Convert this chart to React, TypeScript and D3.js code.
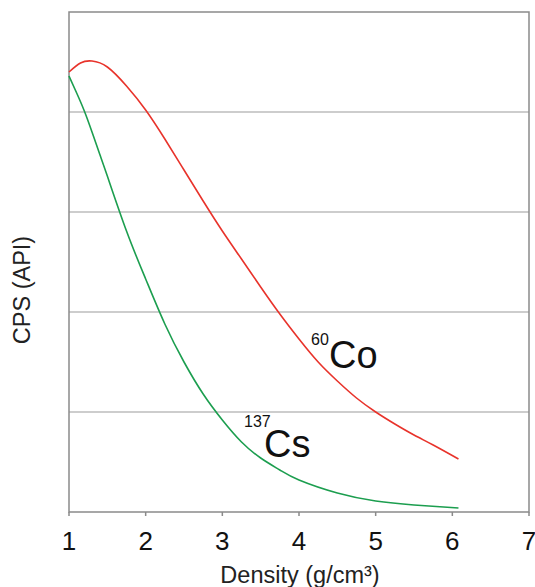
import React from "react";
import * as d3 from "d3";

// density (g/cm³) samples and relative count rates
const coDensity = [1.0, 1.15, 1.3, 1.5, 1.75, 2.0, 2.25, 2.5, 2.75, 3.0, 3.25, 3.5, 3.75, 4.0, 4.25, 4.5, 4.75, 5.0, 5.25, 5.5, 5.75, 6.08];
const coCps = [4.4, 4.49, 4.51, 4.45, 4.26, 4.02, 3.73, 3.42, 3.11, 2.81, 2.53, 2.25, 1.98, 1.73, 1.5, 1.31, 1.14, 1.0, 0.88, 0.77, 0.67, 0.53];
const csDensity = [1.0, 1.1, 1.2, 1.3, 1.4, 1.5, 1.75, 2.0, 2.25, 2.5, 2.75, 3.0, 3.25, 3.5, 3.75, 4.0, 4.5, 5.0, 5.5, 6.08];
const csCps = [4.36, 4.19, 4.01, 3.8, 3.58, 3.36, 2.81, 2.33, 1.88, 1.5, 1.18, 0.92, 0.7, 0.54, 0.42, 0.32, 0.19, 0.11, 0.07, 0.04];
const xTicks = [1, 2, 3, 4, 5, 6, 7];
const gridLevels = [1, 2, 3, 4];

const width = 535;
const height = 587;
const m = { left: 69, right: 6, top: 12, bottom: 75 };

const App = () => {
  const x = d3.scaleLinear().domain([1, 7]).range([m.left, width - m.right]);
  const y = d3.scaleLinear().domain([0, 5]).range([height - m.bottom, m.top]);

  const line = d3
    .line<[number, number]>()
    .x(d => x(d[0]))
    .y(d => y(d[1]))
    .curve(d3.curveNatural);

  const coPts = coDensity.map((d, i) => [d, coCps[i]] as [number, number]);
  const csPts = csDensity.map((d, i) => [d, csCps[i]] as [number, number]);

  const font = "Liberation Sans, Arial, sans-serif";
  const [x0, x1] = x.range();
  const [y0, y1] = y.range();

  return (
    <svg width={width} height={height} style={{ position: "absolute", left: 0, top: 0 }} fontFamily={font}>
      <rect width={width} height={height} fill="white" />
      {gridLevels.map(g => (
        <line key={g} x1={x0} x2={x1} y1={y(g)} y2={y(g)} stroke="#bdbdbd" strokeWidth={1.5} />
      ))}
      <rect x={x0} y={y1} width={x1 - x0} height={y0 - y1} fill="none" stroke="#8a8a8a" strokeWidth={1.5} />
      {xTicks.map(t => (
        <g key={t} transform={`translate(${x(t)},${y0})`}>
          <line y2={4} stroke="#8a8a8a" strokeWidth={1.5} />
          <text y={38} textAnchor="middle" fontSize={26} fill="#111">{t}</text>
        </g>
      ))}
      <text x={300} y={583} textAnchor="middle" fontSize={23.5} fill="#222">Density (g/cm³)</text>
      <text transform={`translate(30,290) rotate(-90)`} textAnchor="middle" fontSize={23.5} fill="#222">CPS (API)</text>

      <path d={line(coPts) ?? ""} fill="none" stroke="#e8332b" strokeWidth={1.6} />
      <path d={line(csPts) ?? ""} fill="none" stroke="#1c9e4f" strokeWidth={1.6} />

      <text x={311} y={345} fontSize={16} fill="#111">60</text>
      <text x={329} y={368} fontSize={38} fill="#111">Co</text>
      <text x={244} y={427} fontSize={16} fill="#111">137</text>
      <text x={264} y={457} fontSize={38} fill="#111">Cs</text>
    </svg>
  );
};

export default App;
